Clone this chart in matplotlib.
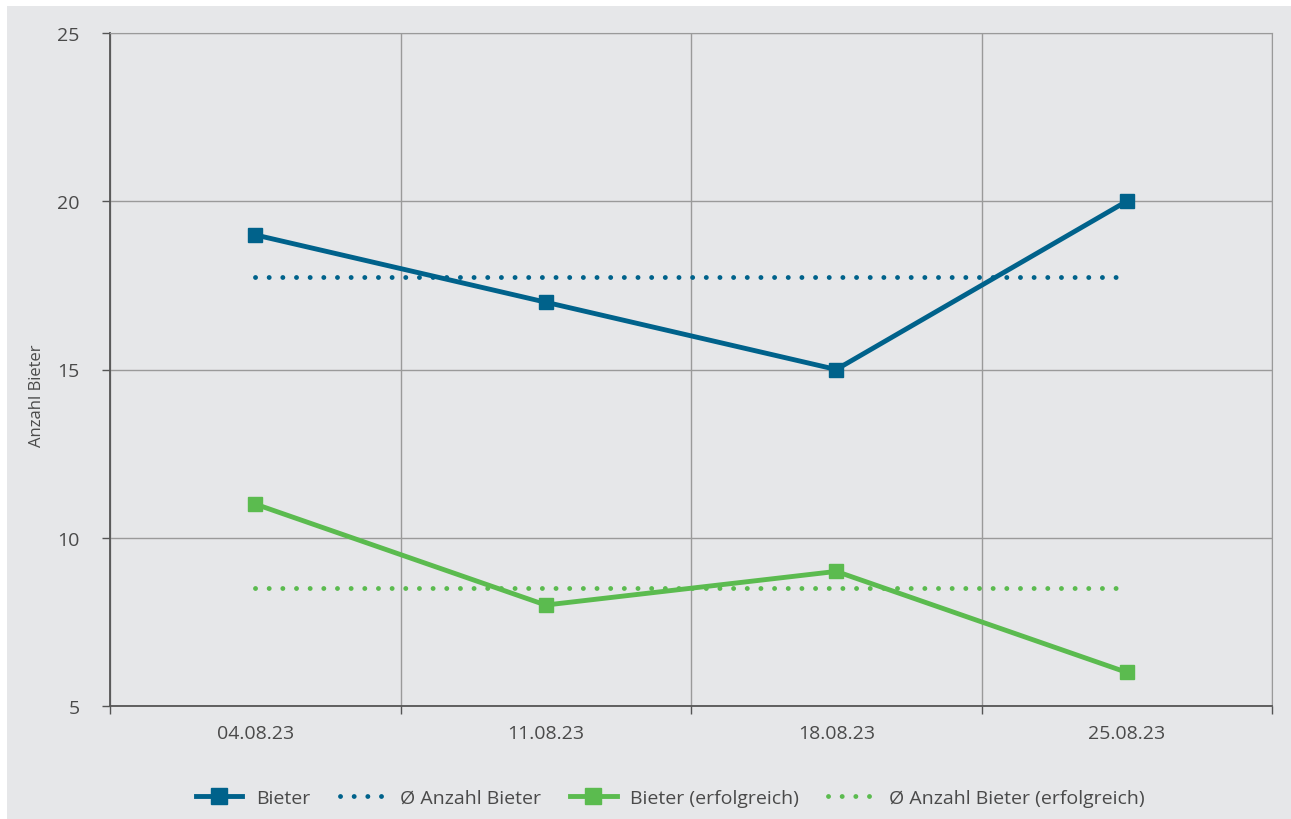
import matplotlib.pyplot as plt
from matplotlib.patches import Rectangle

dates = ['04.08.23', '11.08.23', '18.08.23', '25.08.23']
bieter = [19, 17, 15, 20]
bieter_erfolgreich = [11, 8, 9, 6]
avg_bieter = sum(bieter) / len(bieter)
avg_erfolgreich = sum(bieter_erfolgreich) / len(bieter_erfolgreich)

blue = '#00628b'
green = '#5bbb4f'
bg = '#e6e7e9'
text_col = '#4a4a4a'

plt.rcParams['font.family'] = ['Open Sans', 'DejaVu Sans']

fig = plt.figure(figsize=(12.91, 8.2), dpi=100, facecolor='white')
fig.patches.append(Rectangle((7 / 1291, 0), 1 - 7 / 1291, 1 - 7 / 820,
                             transform=fig.transFigure, facecolor=bg,
                             edgecolor='none', zorder=-1))
ax = fig.add_axes([110 / 1291, 1 - 707 / 820, 1162 / 1291, 673 / 820])
ax.set_facecolor(bg)

dots = (0, (0.01, 2.8))
x = list(range(len(dates)))
ax.plot(x, bieter, color=blue, lw=3.5, marker='s', ms=10.5, label='Bieter', zorder=4)
ax.plot([0, 3], [avg_bieter] * 2, color=blue, lw=3.5, linestyle=dots,
        dash_capstyle='round', label='Ø Anzahl Bieter', zorder=3)
ax.plot(x, bieter_erfolgreich, color=green, lw=3.5, marker='s', ms=10.5,
        label='Bieter (erfolgreich)', zorder=4)
ax.plot([0, 3], [avg_erfolgreich] * 2, color=green, lw=3.5, linestyle=dots,
        dash_capstyle='round', label='Ø Anzahl Bieter (erfolgreich)', zorder=3)

ax.set_xlim(-0.5, 3.5)
ax.set_ylim(5, 25)
ax.set_yticks([5, 10, 15, 20, 25])
ax.set_xticks(x)
ax.set_xticklabels(dates)
ax.set_xticks([-0.5, 0.5, 1.5, 2.5, 3.5], minor=True)
ax.tick_params(axis='x', which='major', length=0, pad=13, labelsize=14, labelcolor=text_col)
ax.tick_params(axis='x', which='minor', length=6, width=1, color='#555555', direction='out')
ax.tick_params(axis='y', length=6, width=1, color='#555555', pad=16, labelsize=14,
               labelcolor=text_col)
ax.grid(True, which='minor', axis='x', color='#9a9a9a', lw=1)
ax.grid(True, which='major', axis='y', color='#9a9a9a', lw=1)
for side in ['top', 'right']:
    ax.spines[side].set_color('#9a9a9a')
for side in ['left', 'bottom']:
    ax.spines[side].set_color('#555555')
    ax.spines[side].set_linewidth(1.3)

ax.set_ylabel('Anzahl Bieter', fontsize=12, color=text_col)
ax.yaxis.set_label_coords(-0.056, 0.462)

fig.legend(loc='center', bbox_to_anchor=(670 / 1291, 1 - 799 / 820), ncol=4,
           frameon=False, fontsize=14, labelcolor=text_col, handlelength=2.4,
           columnspacing=1.5, handletextpad=0.7, markerscale=1.1)

fig.savefig('out.png', dpi=100, facecolor='white')
